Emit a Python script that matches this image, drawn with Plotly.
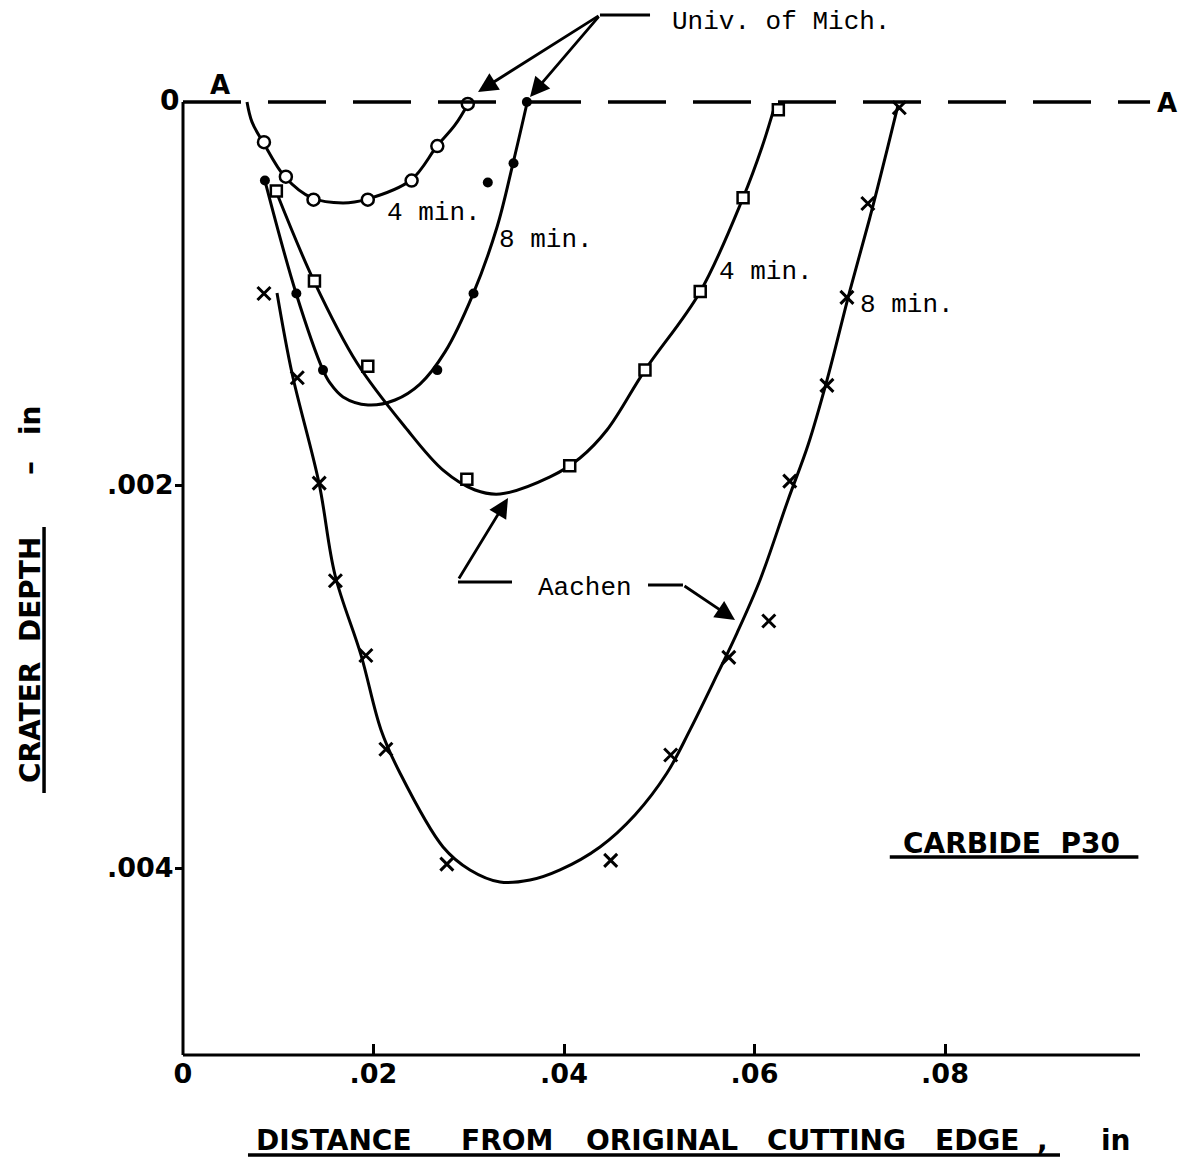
import plotly.graph_objects as go

# ---------------- data (inches) ----------------
# Univ. of Mich. 4 min (open circles)
mich4_x = [0.0085, 0.0108, 0.0137, 0.0194, 0.0240, 0.0267, 0.0299]
mich4_y = [0.00021, 0.00039, 0.00051, 0.00051, 0.00041, 0.00023, 0.00001]
mich4_curve_x = [0.00672, 0.00724, 0.0084, 0.01071, 0.01354, 0.0168, 0.01932, 0.02394, 0.02667, 0.02856, 0.02992]
mich4_curve_y = [0.0, 0.000104, 0.000209, 0.000392, 0.000501, 0.000527, 0.000507, 0.000407, 0.00023, 0.00012, 0.00001]

# Univ. of Mich. 8 min (filled dots)
mich8_x = [0.0086, 0.0119, 0.0147, 0.0267, 0.0305, 0.0320, 0.0347, 0.0361]
mich8_y = [0.00041, 0.00100, 0.00140, 0.00140, 0.00100, 0.00042, 0.00032, 0.0]
mich8_curve_x = [0.00861, 0.01186, 0.0147, 0.01543, 0.0168, 0.01942, 0.02226, 0.02488, 0.02751, 0.03045,
                 0.03297, 0.03465, 0.03612]
mich8_curve_y = [0.000413, 0.000997, 0.0014, 0.001467, 0.00154, 0.001582, 0.001556, 0.001473, 0.001305, 0.001003,
                 0.000653, 0.000319, 0.000005]

# Aachen 4 min (squares)
aach4_x = [0.0098, 0.0138, 0.0194, 0.0298, 0.0406, 0.0485, 0.0543, 0.0588, 0.0625]
aach4_y = [0.000465, 0.000935, 0.00138, 0.00197, 0.00190, 0.00140, 0.00099, 0.00050, 0.00004]
aach4_curve_x = [0.00976, 0.01375, 0.01827, 0.02331, 0.0273, 0.03066, 0.03328, 0.03853, 0.04168, 0.04451,
                 0.0485, 0.05428, 0.05879, 0.06079, 0.06215]
aach4_curve_y = [0.000465, 0.000935, 0.001363, 0.001697, 0.001922, 0.002026, 0.002047, 0.001958, 0.001859, 0.001713,
                 0.0014, 0.000992, 0.000501, 0.000235, 0.000016]

# Aachen 8 min (crosses)
aach8_x = [0.0085, 0.0120, 0.0143, 0.0160, 0.0192, 0.0213, 0.0277, 0.0449, 0.0512, 0.0573, 0.0615, 0.0637,
           0.0676, 0.0697, 0.0719, 0.0752]
aach8_y = [0.00100, 0.00144, 0.00199, 0.00250, 0.00289, 0.00338, 0.00398, 0.00396, 0.00341, 0.00290, 0.00271,
           0.00198, 0.00148, 0.00102, 0.00053, 0.00003]
aach8_curve_x = [0.00987, 0.01144, 0.01428, 0.01596, 0.01869, 0.02079, 0.02278, 0.0273, 0.03013, 0.03328,
                 0.03643, 0.03958, 0.04378, 0.04745, 0.05081, 0.05323, 0.05606, 0.05816, 0.06058, 0.06352,
                 0.06562, 0.06761, 0.07003, 0.07213, 0.07391, 0.07507]
aach8_curve_y = [0.000997, 0.001415, 0.00199, 0.00247, 0.002888, 0.003279, 0.003504, 0.00389, 0.00401, 0.004073,
                 0.004063, 0.00401, 0.00389, 0.003723, 0.003504, 0.003279, 0.002992, 0.002773, 0.002496, 0.002078,
                 0.001791, 0.001452, 0.000982, 0.0006, 0.000251, 0.000016]

x_tick_vals = [0, 0.02, 0.04, 0.06, 0.08]
x_tick_text = ["0", ".02", ".04", ".06", ".08"]
y_tick_vals = [0.002, 0.004]
y_tick_text = [".002", ".004"]

X_RANGE = [0, 0.10047]
Y_RANGE = [0.0049765, -0.0000627]

BOLD = "DejaVu Sans"
MONO = "Liberation Mono"

fig = go.Figure()

def curve(x, y):
    fig.add_trace(go.Scatter(x=x, y=y, mode="lines", line=dict(color="black", width=3, shape="spline", smoothing=1.0),
                             hoverinfo="skip", showlegend=False))

curve(mich4_curve_x, mich4_curve_y)
curve(mich8_curve_x, mich8_curve_y)
curve(aach4_curve_x, aach4_curve_y)
curve(aach8_curve_x, aach8_curve_y)

fig.add_trace(go.Scatter(x=mich4_x, y=mich4_y, mode="markers", cliponaxis=False, showlegend=False,
                         marker=dict(symbol="circle", size=12, color="white", line=dict(color="black", width=2.5))))
fig.add_trace(go.Scatter(x=mich8_x, y=mich8_y, mode="markers", cliponaxis=False, showlegend=False,
                         marker=dict(symbol="circle", size=10, color="black", line=dict(width=0))))
fig.add_trace(go.Scatter(x=aach4_x, y=aach4_y, mode="markers", cliponaxis=False, showlegend=False,
                         marker=dict(symbol="square", size=11, color="white", line=dict(color="black", width=2.5))))
fig.add_trace(go.Scatter(x=aach8_x, y=aach8_y, mode="markers", cliponaxis=False, showlegend=False,
                         marker=dict(symbol="x-thin", size=13, color="black", line=dict(color="black", width=3))))

shapes = [
    # A - A reference line
    dict(type="line", xref="paper", yref="y", x0=0, x1=1.0105, y0=0, y1=0,
         line=dict(color="black", width=3.5, dash="58px,27px")),
    # y axis line
    dict(type="line", xref="paper", yref="y", x0=0, x1=0, y0=0, y1=Y_RANGE[0],
         line=dict(color="black", width=3)),
    # x axis line
    dict(type="line", xref="paper", yref="paper", x0=0, x1=1.0, y0=0, y1=0,
         line=dict(color="black", width=3)),
    # underlines
    dict(type="line", xref="paper", yref="paper", x0=0.0679, x1=0.9164, y0=-0.1036, y1=-0.1036,
         line=dict(color="black", width=3.5)),
    dict(type="line", xref="paper", yref="paper", x0=-0.1452, x1=-0.1452, y0=0.2715, y1=0.5472,
         line=dict(color="black", width=3.5)),
    dict(type="line", xref="x", yref="y", x0=0.0742, x1=0.1003, y0=0.003943, y1=0.003943,
         line=dict(color="black", width=3.5)),
    # leader lines
    dict(type="line", xref="paper", yref="paper", x0=0.4357, x1=0.488, y0=1.0777, y1=1.0777,
         line=dict(color="black", width=3)),
    dict(type="line", xref="x", yref="y", x0=0.02887, x1=0.03454, y0=0.002507, y1=0.002507,
         line=dict(color="black", width=3)),
    dict(type="line", xref="x", yref="y", x0=0.04882, x1=0.05249, y0=0.002522, y1=0.002522,
         line=dict(color="black", width=3)),
]

ann = []
def txt(text, x, y, ref="data", size=26, font=MONO, xanchor="left", yanchor="middle", bold=False, angle=0):
    xr, yr = ("x", "y") if ref == "data" else ("paper", "paper")
    ann.append(dict(text=text, x=x, y=y, xref=xr, yref=yr, showarrow=False, xanchor=xanchor, yanchor=yanchor,
                    textangle=angle,
                    font=dict(family=font, size=size, color="black", weight="bold" if bold else "normal")))

def arrow(x, y, ax, ay, ref="data"):
    xr, yr = ("x", "y") if ref == "data" else ("paper", "paper")
    ann.append(dict(text="", x=x, y=y, xref=xr, yref=yr, ax=ax, ay=ay, showarrow=True,
                    arrowhead=2, arrowsize=1.4, arrowwidth=2.8, arrowcolor="black"))

txt("4 min.", 0.02121, 0.00058)
txt("8 min.", 0.03297, 0.00072)
txt("4 min.", 0.05606, 0.000888)
txt("8 min.", 0.07087, 0.00106)
txt("Aachen", 0.03706, 0.002538)
txt("Univ. of Mich.", 0.5089, 1.0705, ref="paper")
txt("CARBIDE  P30", 0.0870, 0.00387, size=28, font=BOLD, xanchor="center", bold=True)

# x-axis title, word by word (wide hand lettering)
for word, px in [("DISTANCE", 0.1578), ("FROM", 0.3386), ("ORIGINAL", 0.5005), ("CUTTING", 0.6824), ("EDGE", 0.8297)]:
    txt(word, px, -0.0881, ref="paper", size=28, font=BOLD, xanchor="center", bold=True)
txt(",", 0.8903, -0.0881, ref="paper", size=28, font=BOLD, xanchor="left", bold=True)
txt("in", 0.9744, -0.0881, ref="paper", size=28, font=BOLD, xanchor="center", bold=True)

# y-axis title pieces (rotated)
txt("CRATER  DEPTH", -0.1599, 0.4093, ref="paper", size=28, font=BOLD, xanchor="center", bold=True, angle=-90)
txt("–", -0.1599, 0.6083, ref="paper", size=28, font=BOLD, xanchor="center", bold=True, angle=-90)
txt("in", -0.1599, 0.658, ref="paper", size=28, font=BOLD, xanchor="center", bold=True, angle=-90)

txt("0", -0.0136, 0.9896, ref="paper", size=28, font=BOLD, xanchor="center", bold=True)
txt("A", 0.0387, 1.0052, ref="paper", size=26, font=BOLD, xanchor="center", bold=True)
txt("A", 1.0282, 0.9865, ref="paper", size=26, font=BOLD, xanchor="center", bold=True)

arrow(0.3083, 0.998, 122, -77, ref="paper")
arrow(0.3626, 0.9927, 70, -82, ref="paper")
arrow(0.03412, 0.002068, -50, 82)
arrow(0.05795, 0.002705, -52, -35)

fig.update_layout(
    width=1189, height=1167,
    margin=dict(l=183, r=49, t=90, b=112),
    paper_bgcolor="white", plot_bgcolor="white",
    shapes=shapes, annotations=ann,
    showlegend=False,
    xaxis=dict(range=X_RANGE, showgrid=False, zeroline=False, showline=False,
               tickvals=x_tick_vals, ticktext=x_tick_text, ticks="inside", ticklen=11, tickwidth=3,
               tickcolor="black", tickfont=dict(family=BOLD, size=27, color="black", weight="bold")),
    yaxis=dict(range=Y_RANGE, showgrid=False, zeroline=False, showline=False,
               tickvals=y_tick_vals, ticktext=y_tick_text, ticks="outside", ticklen=7, tickwidth=3,
               ticklabelstandoff=-4,
               tickcolor="black", tickfont=dict(family=BOLD, size=27, color="black", weight="bold")),
)

fig.write_html("out.html")
